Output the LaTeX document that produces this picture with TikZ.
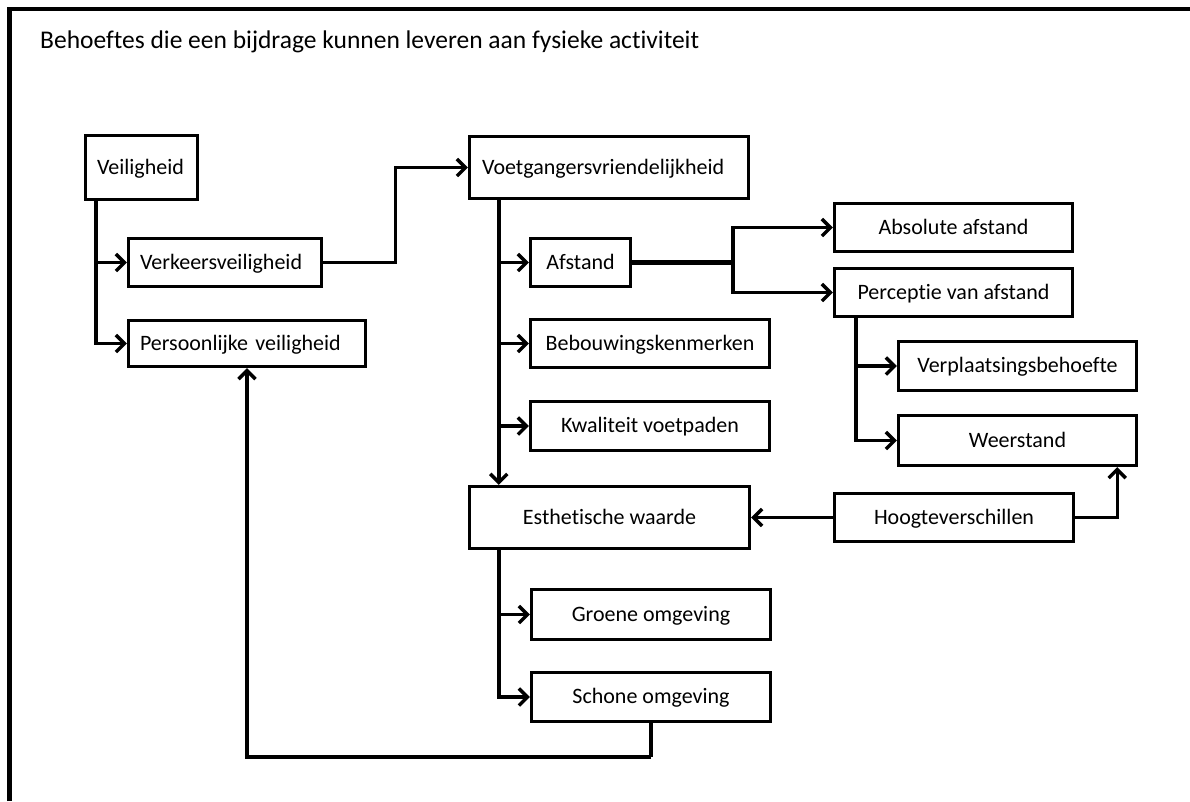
\documentclass[tikz,border=0pt]{standalone}
\usepackage{fontspec}
\setmainfont[Ligatures=NoCommon]{Carlito}
\usetikzlibrary{arrows.meta,calc}
\begin{document}
\begin{tikzpicture}[x=1pt,y=-1pt,
  box/.style={draw, line width=3.4pt, rectangle, inner sep=0pt,
    text height=17pt, text depth=4pt,
    font=\fontsize{22}{25}\selectfont, align=center},
  lbox/.style={box, align=left, inner xsep=11.5pt},
  conn/.style={line width=3.4pt, -{Straight Barb[length=8.5pt,width=17pt]}},
  link/.style={line width=3.4pt}]
\useasboundingbox (0,0) rectangle (1190,801);
\fill[white] (0,0) rectangle (1190,801);

% page frame (top and left edge)
\draw[line width=4.8pt] (9.5,801) -- (9.5,9) -- (1190,9);

\node[anchor=base west, inner sep=0pt, font=\fontsize{25.5}{29}\selectfont] (title) at (40,48)
  {Behoeftes die een bijdrage kunnen leveren aan fysieke activiteit};

% boxes
\node[lbox, text width=89pt, minimum width=112pt, minimum height=64pt] (vei) at (141.5,167.5) {Veiligheid};
\node[lbox, text width=170pt, minimum width=193pt, minimum height=48pt] (verk) at (225,262.5) {Verkeersveiligheid};
\node[lbox, text width=214pt, minimum width=237pt, minimum height=46pt] (pers) at (247,343.5) {Persoonlijke veiligheid};
\node[lbox, text width=254pt, inner xsep=12.5pt, minimum width=279pt, minimum height=62pt] (voet) at (609,167.5) {Voetgangersvriendelijkheid};
\node[box, minimum width=100pt, minimum height=48pt] (afst) at (580.5,262.5) {Afstand};
\node[box, minimum width=239pt, minimum height=48pt] (bebo) at (650,343.5) {Bebouwingskenmerken};
\node[box, minimum width=239pt, minimum height=49pt] (kwal) at (650,426) {Kwaliteit voetpaden};
\node[box, minimum width=280pt, minimum height=62pt] (esth) at (609.5,517.5) {Esthetische waarde};
\node[box, minimum width=238pt, minimum height=48pt] (abs) at (953.5,227.5) {Absolute afstand};
\node[box, minimum width=238pt, minimum height=48pt] (perc) at (953.5,292.5) {Perceptie van afstand};
\node[box, minimum width=238pt, minimum height=49pt] (verp) at (1017.5,366) {Verplaatsingsbehoefte};
\node[box, minimum width=238pt, minimum height=50pt] (weer) at (1017.5,440.5) {Weerstand};
\node[box, minimum width=239pt, minimum height=48pt] (hoog) at (954,517.5) {Hoogteverschillen};
\node[box, minimum width=239pt, minimum height=50pt] (groen) at (651,614.5) {Groene omgeving};
\node[box, minimum width=239pt, minimum height=49pt] (schoon) at (651,697) {Schone omgeving};

% turning points
\coordinate (vk) at ([xshift=12pt]vei.south west);
\coordinate (vt) at ([xshift=31pt]voet.south west);
\coordinate (af) at (733,262.5);
\coordinate (pc) at ([xshift=23pt]perc.south west);
\coordinate (et) at ([xshift=31pt]esth.south west);
\coordinate (wb) at ([xshift=-21pt]weer.south east);
\coordinate (low) at (651,757);

% connectors
\draw[conn] (vk) |- (verk.west);
\draw[conn] (vk) |- (pers.west);
\draw[conn] (verk.east) -- ++(72,0) |- (voet.west);
\draw[conn] (vt) |- (afst.west);
\draw[conn] (vt) |- (bebo.west);
\draw[conn] (vt) |- (kwal.west);
\draw[conn] (vt) -- (vt |- esth.north);
\draw[line width=4.4pt] (afst.east) -- (af);
\draw[conn] (af) |- (abs.west);
\draw[conn] (af) |- (perc.west);
\draw[conn] (pc) |- (verp.west);
\draw[conn] (pc) |- (weer.west);
\draw[conn] (hoog.west) -- (esth.east);
\draw[conn] (hoog.east) -| (wb);
\draw[conn] (et) |- (groen.west);
\draw[conn] (et) |- (schoon.west);
\draw[link] (schoon.south) -- (low);
\draw[conn] (low) -| (pers.south);
\end{tikzpicture}
\end{document}
